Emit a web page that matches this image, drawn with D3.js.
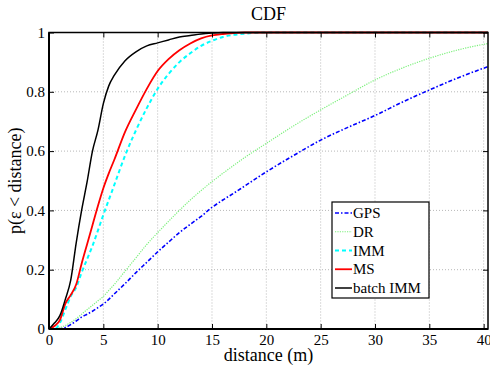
<!DOCTYPE html>
<html>
<head>
<meta charset="utf-8">
<script src="https://cdn.jsdelivr.net/npm/d3@7"></script>
<style>
  body { margin: 0; background: #fff; }
  svg { display: block; }
  svg text { font-family: "Liberation Serif", "Times New Roman", serif; fill: #000; }
</style>
</head>
<body>
<div id="chart"></div>
<script>
// distance grid (m) shared by every series
var distance = [0, 0.5, 1, 1.5, 2, 2.5, 3, 3.5, 4, 4.5, 5, 5.5, 6, 7, 8, 9, 10, 11, 12, 13, 14, 15, 16, 17, 18, 20, 22.5, 25, 27.5, 30, 32.5, 35, 37.5, 40.4];

var gps = [0, 0, 0.001, 0.005, 0.015, 0.027, 0.04, 0.05, 0.06, 0.072, 0.084, 0.1, 0.118, 0.153, 0.19, 0.225, 0.26, 0.293, 0.325, 0.353, 0.38, 0.41, 0.435, 0.458, 0.482, 0.53, 0.585, 0.637, 0.68, 0.72, 0.765, 0.806, 0.845, 0.885];
var dr = [0, 0.001, 0.005, 0.012, 0.022, 0.035, 0.05, 0.065, 0.08, 0.095, 0.11, 0.13, 0.15, 0.195, 0.24, 0.285, 0.325, 0.363, 0.4, 0.435, 0.467, 0.497, 0.525, 0.552, 0.578, 0.626, 0.685, 0.739, 0.79, 0.84, 0.88, 0.913, 0.94, 0.963];
var imm = [0, 0, 0.02, 0.065, 0.11, 0.14, 0.19, 0.235, 0.28, 0.332, 0.385, 0.435, 0.485, 0.585, 0.67, 0.745, 0.81, 0.86, 0.9, 0.93, 0.955, 0.972, 0.985, 0.992, 0.996, 1, 1, 1, 1, 1, 1, 1, 1, 1];
var ms = [0, 0.01, 0.03, 0.085, 0.115, 0.15, 0.22, 0.285, 0.35, 0.415, 0.475, 0.525, 0.57, 0.665, 0.74, 0.81, 0.87, 0.91, 0.94, 0.963, 0.98, 0.99, 0.995, 0.998, 1, 1, 1, 1, 1, 1, 1, 1, 1, 1];
var batchImm = [0, 0.02, 0.045, 0.1, 0.165, 0.29, 0.4, 0.495, 0.6, 0.67, 0.76, 0.82, 0.855, 0.905, 0.935, 0.955, 0.965, 0.975, 0.985, 0.99, 0.995, 0.998, 1, 1, 1, 1, 1, 1, 1, 1, 1, 1, 1, 1];

var seriesNames = ["GPS", "DR", "IMM", "MS", "batch IMM"];
var seriesValues = [gps, dr, imm, ms, batchImm];
var xTicks = [0, 5, 10, 15, 20, 25, 30, 35, 40];
var yTicks = [0, 0.2, 0.4, 0.6, 0.8, 1];

var styles = [
  { color: "#0000ff", width: 1.6, dash: "4,2,1.5,2" },
  { color: "#7cf07c", width: 1.2, dash: "1.2,1.2" },
  { color: "#00ffff", width: 2, dash: "4,3" },
  { color: "#ff0000", width: 1.8, dash: null },
  { color: "#000000", width: 1.5, dash: null }
];

function drawChart() {
  var W = 490, H = 366;
  var m = { left: 49, right: 488, top: 32.5, bottom: 329 };

  var svg = d3.select("#chart").append("svg")
    .attr("width", W)
    .attr("height", H);

  var x = d3.scaleLinear().domain([0, 40.4]).range([m.left, m.right]);
  var y = d3.scaleLinear().domain([0, 1]).range([m.bottom, m.top]);

  // grid
  svg.append("g").selectAll("line")
    .data(xTicks.filter(d => d > 0))
    .enter().append("line")
    .attr("x1", d => x(d)).attr("x2", d => x(d))
    .attr("y1", m.top).attr("y2", m.bottom)
    .attr("stroke", "#b8b8b8").attr("stroke-width", 1)
    .attr("stroke-dasharray", "1,2");

  svg.append("g").selectAll("line")
    .data(yTicks.filter(d => d > 0 && d < 1))
    .enter().append("line")
    .attr("x1", m.left).attr("x2", m.right)
    .attr("y1", d => y(d)).attr("y2", d => y(d))
    .attr("stroke", "#b8b8b8").attr("stroke-width", 1)
    .attr("stroke-dasharray", "1,2");

  svg.append("clipPath").attr("id", "clip")
    .append("rect")
    .attr("x", m.left).attr("y", m.top - 2)
    .attr("width", m.right - m.left).attr("height", m.bottom - m.top + 2);

  var line = d3.line()
    .x((d, i) => x(distance[i]))
    .y(d => y(d))
    .curve(d3.curveMonotoneX);

  var plot = svg.append("g").attr("clip-path", "url(#clip)");
  seriesValues.forEach((vals, k) => {
    plot.append("path")
      .datum(vals)
      .attr("fill", "none")
      .attr("stroke", styles[k].color)
      .attr("stroke-width", styles[k].width)
      .attr("stroke-dasharray", styles[k].dash)
      .attr("d", line);
  });

  // axes, MATLAB style: inward ticks on all sides
  var xAxis = d3.axisBottom(x).tickValues(xTicks).tickSize(-5).tickPadding(5).tickFormat(d3.format("d"));
  var yAxis = d3.axisLeft(y).tickValues(yTicks).tickSize(-5).tickPadding(4)
    .tickFormat(d => d === 0 || d === 1 ? String(d) : d3.format(".1f")(d));

  var gx = svg.append("g")
    .attr("transform", "translate(0," + m.bottom + ")")
    .call(xAxis);
  var gy = svg.append("g")
    .attr("transform", "translate(" + m.left + ",0)")
    .call(yAxis);

  svg.append("g")
    .attr("transform", "translate(0," + m.top + ")")
    .call(d3.axisTop(x).tickValues(xTicks).tickSize(-5).tickFormat(""));
  svg.append("g")
    .attr("transform", "translate(" + m.right + ",0)")
    .call(d3.axisRight(y).tickValues(yTicks).tickSize(-5).tickFormat(""));

  svg.selectAll(".domain").remove();
  svg.selectAll(".tick line").attr("stroke", "#000").attr("stroke-width", 1);
  [gx, gy].forEach(g => g.selectAll("text")
    .style("font-family", "'Liberation Serif', 'Times New Roman', serif")
    .style("font-size", "15px")
    .attr("fill", "#000"));

  // frame
  svg.append("rect")
    .attr("x", m.left).attr("y", m.top)
    .attr("width", m.right - m.left).attr("height", m.bottom - m.top)
    .attr("fill", "none").attr("stroke", "#000").attr("stroke-width", 1.5);
  svg.append("line")
    .attr("x1", m.left).attr("x2", m.right).attr("y1", m.bottom).attr("y2", m.bottom)
    .attr("stroke", "#000").attr("stroke-width", 2);
  svg.append("line")
    .attr("x1", m.left).attr("x2", m.left).attr("y1", m.top).attr("y2", m.bottom)
    .attr("stroke", "#000").attr("stroke-width", 2);

  // titles
  svg.append("text")
    .attr("x", (m.left + m.right) / 2).attr("y", 20)
    .attr("text-anchor", "middle")
    .style("font-size", "18px")
    .text("CDF");

  svg.append("text")
    .attr("x", (m.left + m.right) / 2).attr("y", 361)
    .attr("text-anchor", "middle")
    .style("font-size", "18px")
    .text("distance (m)");

  svg.append("text")
    .attr("transform", "translate(21," + ((m.top + m.bottom) / 2) + ") rotate(-90)")
    .attr("text-anchor", "middle")
    .style("font-size", "18px")
    .text("p(\u03b5 < distance)");

  // legend
  var lg = svg.append("g").attr("transform", "translate(332,202)");
  lg.append("rect")
    .attr("width", 97).attr("height", 96)
    .attr("fill", "#fff").attr("stroke", "#000").attr("stroke-width", 1.2);
  seriesNames.forEach((name, k) => {
    var ly = 11 + k * 18.75;
    lg.append("line")
      .attr("x1", 3).attr("x2", 20).attr("y1", ly).attr("y2", ly)
      .attr("stroke", styles[k].color)
      .attr("stroke-width", styles[k].width)
      .attr("stroke-dasharray", styles[k].dash);
    lg.append("text")
      .attr("x", 21).attr("y", ly + 5)
      .style("font-size", "15px")
      .text(name);
  });
}

drawChart();
</script>
</body>
</html>
